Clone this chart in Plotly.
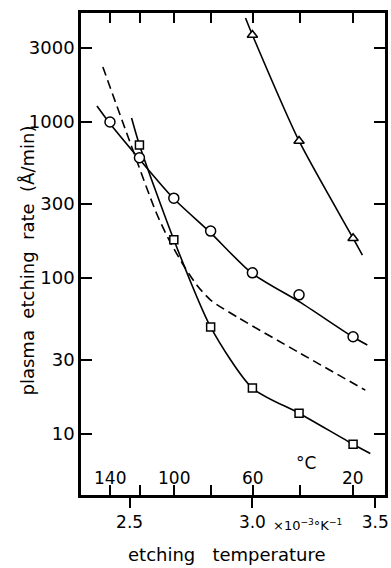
import plotly.graph_objects as go

# ---------------- data (x = 1/T in 1e-3 K^-1, y = etching rate in Å/min) ----------------
pme2ia_x = [2.42, 2.54, 2.68, 2.83, 3.00, 3.19, 3.41]
pme2ia_y = [1000, 590, 325, 200, 108, 78, 42]
pme2ia_curve_x = [2.367, 2.415, 2.536, 2.677, 2.827, 2.996, 3.194, 3.403, 3.468]
pme2ia_curve_y = [1266, 1000, 588, 326, 197, 108, 70, 42.5, 37.2]

pmipk_x = [2.54, 2.68, 2.83, 3.00, 3.19, 3.41]
pmipk_y = [713, 176, 48.5, 19.7, 13.6, 8.6]
pmipk_curve_x = [2.508, 2.54, 2.68, 2.83, 3.00, 3.19, 3.41, 3.48]
pmipk_curve_y = [1061, 713, 176, 48.5, 19.7, 13.6, 8.6, 7.5]

pbs_x = [3.00, 3.19, 3.41]
pbs_y = [3614, 756, 180]
pbs_curve_x = [2.972, 3.00, 3.19, 3.41, 3.448]
pbs_curve_y = [4640, 3614, 756, 180, 140]

pmma_curve_x = [2.391, 2.488, 2.609, 2.661, 2.722, 2.774, 2.831, 2.944, 3.185, 3.460]
pmma_curve_y = [2255, 850, 261, 175, 119, 90, 72, 55.5, 33.6, 19.1]

rate_ticks = [10, 30, 100, 300, 1000, 3000]
rate_labels = ["10", "30", "100", "300", "1000", "3000"]
inv_t_ticks = [2.5, 3.0, 3.5]
inv_t_labels = ["2.5", "3.0", "3.5"]
temp_c_ticks = [140, 120, 100, 80, 60, 40, 20]
temp_c_labeled = [140, 100, 60, 20]
temp_c_labels = ["140", "100", "60", "20"]
temp_tick_pos = [1000.0 / (t + 273.15) for t in temp_c_ticks]
temp_label_pos = [1000.0 / (t + 273.15) for t in temp_c_labeled]

series_labels = [
    ("PBS", 3.016, 900),
    ("PMe<sub>2</sub>IA", 3.028, 183),
    ("PMMA", 3.012, 67),
    ("PMIPK", 2.75, 22.5),
]

FONT = "DejaVu Sans"
TICKC = "black"
fig = go.Figure()


def curve(x, y, dash=None):
    fig.add_trace(go.Scatter(
        x=x, y=y, mode="lines", showlegend=False, hoverinfo="skip",
        line=dict(color="black", width=1.6, shape="spline", smoothing=0.7,
                  dash=dash)))


def points(x, y, symbol, size):
    fig.add_trace(go.Scatter(
        x=x, y=y, mode="markers", showlegend=False,
        marker=dict(symbol=symbol, size=size, color="white",
                    line=dict(color="black", width=1.5))))


curve(pmma_curve_x, pmma_curve_y, dash="9px,5px")
curve(pme2ia_curve_x, pme2ia_curve_y)
curve(pmipk_curve_x, pmipk_curve_y)
curve(pbs_curve_x, pbs_curve_y)
points(pme2ia_x, pme2ia_y, "circle", 10)
points(pmipk_x, pmipk_y, "square", 8)
points(pbs_x, pbs_y, "triangle-up", 9)

# invisible carrier traces so the secondary tick axes get drawn
carriers = [
    (temp_tick_pos, [rate_ticks[2]] * len(temp_tick_pos), "x2", "y"),
    (temp_tick_pos, [rate_ticks[2]] * len(temp_tick_pos), "x3", "y"),
    ([inv_t_ticks[1]] * len(rate_ticks), rate_ticks, "x", "y2"),
]
for cx, cy, xa, ya in carriers:
    fig.add_trace(go.Scatter(x=cx, y=cy, xaxis=xa, yaxis=ya, mode="markers",
                             marker=dict(opacity=0, size=1),
                             showlegend=False, hoverinfo="skip"))

for text, x, y in series_labels:
    fig.add_annotation(x=x, y=y, xref="x", yref="y", text=text,
                       showarrow=False, font=dict(family=FONT, size=17, color="black"))

# Celsius labels just above the inward temperature ticks
for text, x in zip(temp_c_labels, temp_label_pos):
    fig.add_annotation(x=x, y=0.036, xref="x", yref="paper", text=text,
                       xanchor="center", yanchor="middle", showarrow=False,
                       font=dict(family=FONT, size=17, color="black"))

fig.add_annotation(x=3.218, y=0.066, xref="x", yref="paper", text="°C",
                   xanchor="center", yanchor="middle",
                   showarrow=False, font=dict(family=FONT, size=17, color="black"))
fig.add_annotation(x=3.226, y=-0.062, xref="x", yref="paper",
                   text="×10<sup>−3</sup>°K<sup>−1</sup>",
                   xanchor="center", yanchor="middle",
                   showarrow=False, font=dict(family=FONT, size=13, color="black"))
fig.add_annotation(x=0.479, y=-0.124, xref="paper", yref="paper",
                   text="etching\u00a0\u00a0\u00a0temperature",
                   xanchor="center", yanchor="middle",
                   showarrow=False, font=dict(family=FONT, size=18, color="black"))
fig.add_annotation(x=-0.176, y=0.4876, xref="paper", yref="paper",
                   text="plasma\u00a0\u00a0etching\u00a0\u00a0rate\u00a0\u00a0(Å/min)",
                   textangle=-90, xanchor="center", yanchor="middle",
                   showarrow=False,
                   font=dict(family=FONT, size=18, color="black"))

xrange = [2.302, 3.540]
yrange = [0.609, 3.699]

fig.update_layout(
    width=391, height=568,
    margin=dict(l=81, r=3, t=13, b=73),
    paper_bgcolor="white", plot_bgcolor="white",
    font=dict(family=FONT, color="black"),
    xaxis=dict(range=xrange, tickvals=inv_t_ticks, ticktext=inv_t_labels,
               ticks="outside", ticklen=10, tickwidth=2, tickcolor="black",
               showline=True, linewidth=2.5, linecolor="black", mirror=True,
               showgrid=False, zeroline=False,
               tickfont=dict(family=FONT, size=17, color="black")),
    # inward Celsius ticks along the bottom
    xaxis2=dict(range=xrange, overlaying="x", anchor="y", side="bottom",
                tickvals=temp_tick_pos, showticklabels=False,
                ticks="inside", ticklen=10, tickwidth=1.8, tickcolor=TICKC,
                showline=False, showgrid=False, zeroline=False),
    # inward Celsius ticks along the top
    xaxis3=dict(range=xrange, overlaying="x", anchor="y", side="top",
                tickvals=temp_tick_pos, showticklabels=False,
                ticks="inside", ticklen=10, tickwidth=1.8, tickcolor=TICKC,
                showline=False, showgrid=False, zeroline=False),
    yaxis=dict(type="log", range=yrange, tickvals=rate_ticks, ticktext=rate_labels,
               ticks="inside", ticklen=11, tickwidth=2, tickcolor="black",
               showline=True, linewidth=2.5, linecolor="black", mirror=True,
               showgrid=False, zeroline=False,
               tickfont=dict(family=FONT, size=18, color="black")),
    # inward ticks on the right frame
    yaxis2=dict(type="log", range=yrange, overlaying="y", anchor="x", side="right",
                tickvals=rate_ticks, showticklabels=False,
                ticks="inside", ticklen=11, tickwidth=1.8, tickcolor=TICKC,
                showline=False, showgrid=False, zeroline=False),
)

fig.write_html("out.html")
